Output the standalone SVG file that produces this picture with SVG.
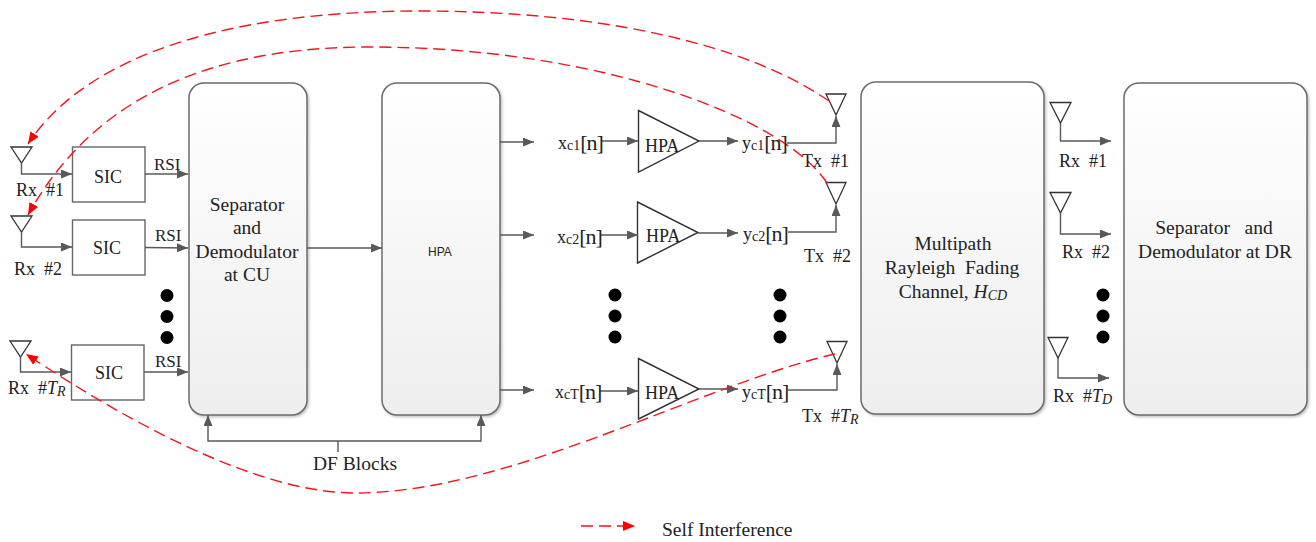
<svg xmlns="http://www.w3.org/2000/svg" width="1316" height="542" viewBox="0 0 1316 542">
<style>
text{font-family:"Liberation Serif","Times New Roman",serif;fill:#222;font-size:19.500px}
.m{text-anchor:middle}
.f{font-size:18px}
.c{font-size:17px}
.s{font-size:14px}
.b2{font-size:22px;letter-spacing:-1px}
.l{fill:none;stroke:#595959;stroke-width:1.4;marker-end:url(#a)}
.n{fill:none;stroke:#595959;stroke-width:1.4}
.b{fill:url(#g);stroke:#6b6b6b;stroke-width:1.5;filter:url(#sh)}
.r{fill:#fff;stroke:#666;stroke-width:1.4}
.t{fill:#fff;stroke:#333;stroke-width:1.4}
.ant{fill:#fff;stroke:#333;stroke-width:1.3}
.red{fill:none;stroke:#f5141e;stroke-width:1.4;stroke-dasharray:12 6;marker-end:url(#ra)}
</style>
<defs>
<marker id="a" markerUnits="userSpaceOnUse" markerWidth="12" markerHeight="10" refX="11" refY="4.500" orient="auto"><path d="M0,0L11,4.500L0,9z" fill="#595959"/></marker>
<marker id="ra" markerUnits="userSpaceOnUse" markerWidth="14" markerHeight="12" refX="12" refY="5" orient="auto"><path d="M0,0L12,5L0,10z" fill="#f00"/></marker>
<linearGradient id="g" x1="0" y1="0" x2="0" y2="1"><stop offset="0" stop-color="#fff"/><stop offset="1" stop-color="#eee"/></linearGradient>
<filter id="sh" x="-5%" y="-5%" width="110%" height="110%"><feDropShadow dx="1.5" dy="1.5" stdDeviation="1" flood-color="#999" flood-opacity=".6"/></filter>
</defs>

<g id="node-sep-cu"><rect class="b" x="189" y="83" width="118" height="332" rx="15"/>
<text class="m" x="247" y="211">Separator</text><text class="m" x="247" y="234">and</text><text class="m" x="247" y="258">Demodulator</text><text class="m" x="247" y="281">at CU</text></g>
<g id="node-hpa-main"><rect class="b" x="382" y="83" width="118" height="332" rx="15"/>
<text class="m" x="440" y="256" style="font-family:'Liberation Sans',sans-serif;font-size:12px">HPA</text></g>
<g id="node-channel"><rect class="b" x="861" y="82" width="183" height="332" rx="15"/>
<text class="m" x="953" y="250">Multipath</text><text class="m" x="952" y="274" xml:space="preserve">Rayleigh  Fading</text><text class="m" x="953" y="298" xml:space="preserve">Channel, <tspan font-style="italic">H</tspan><tspan font-style="italic" class="s" dy="2">CD</tspan></text></g>
<g id="node-sep-dr"><rect class="b" x="1124" y="83" width="183" height="332" rx="15"/>
<text class="m" x="1214" y="234" xml:space="preserve">Separator   and</text><text class="m" x="1215" y="258">Demodulator at DR</text></g>

<g id="node-sic1"><rect class="r" x="72.500" y="147" width="72.500" height="55"/><text class="m f" x="108" y="183">SIC</text></g>
<g id="node-sic2"><rect class="r" x="72.500" y="220" width="72.500" height="55"/><text class="m f" x="107" y="254">SIC</text></g>
<g id="node-sic3"><rect class="r" x="71.500" y="345" width="72.500" height="55"/><text class="m f" x="109" y="379">SIC</text></g>

<g id="node-amp1"><path class="t" d="M638.500,110.500V172L699,141z"/><text class="f" x="645" y="152">HPA</text></g>
<g id="node-amp2"><path class="t" d="M637.500,202V263L698,232.500z"/><text class="f" x="646" y="242">HPA</text></g>
<g id="node-amp3"><path class="t" d="M638.500,358.500V419L699,389z"/><text class="f" x="645" y="399">HPA</text></g>

<g id="node-antennas">
<path class="ant" d="M11,147H32L21.500,163z"/>
<path class="ant" d="M11,216H32L21.500,232z"/>
<path class="ant" d="M10,341H31L20.500,357z"/>
<path class="ant" d="M826,94H846L836,115z"/>
<path class="ant" d="M826,182.500H846L836,204z"/>
<path class="ant" d="M827,341.500H847L837,363z"/>
<path class="ant" d="M1050,102.500H1071L1060.500,123z"/>
<path class="ant" d="M1050,192.500H1071L1060.500,213z"/>
<path class="ant" d="M1048,337.500H1068L1058,358z"/>
</g>

<g id="connectors">
<path class="l" d="M21.500,163V174H72"/>
<path class="l" d="M21.500,232V247H72"/>
<path class="l" d="M20.500,357V372H71"/>
<path class="l" d="M145,174H188"/>
<path class="l" d="M145,247.500L188,248"/>
<path class="l" d="M144,372H188"/>
<path class="l" d="M307,248H382"/>
<path class="l" d="M500,142H534"/>
<path class="l" d="M500,235H534"/>
<path class="l" d="M500,390H534"/>
<path class="l" d="M601,141H638"/>
<path class="l" d="M600,235H638"/>
<path class="l" d="M600,391H638"/>
<path class="l" d="M699,141H738"/>
<path class="l" d="M698,233H738"/>
<path class="l" d="M699,389H738"/>
<path class="l" d="M787,143H836V116"/>
<path class="l" d="M788,232H836V205"/>
<path class="l" d="M788,390H837V364"/>
<path class="l" d="M1060.500,123V141H1111"/>
<path class="l" d="M1060.500,213V234H1111"/>
<path class="l" d="M1058,358V378H1109"/>
<path class="l" d="M338,441H208V415"/>
<path class="l" d="M338,441H481V415"/>
<path class="n" d="M338,441V452"/>
<path class="red" d="M829,101C740,40 590,11 420,11C240,11 90,50 28,144"/>
<path class="red" d="M827,183C785,118 600,47 370,47C230,47 100,85 28,215"/>
<path class="red" d="M835,354C700,385 510,493 355,493C250,493 110,410 26,354"/>
<path class="red" d="M581,526H635"/>
</g>

<g id="labels">
<text class="c" x="154" y="170">RSI</text><text class="c" x="155" y="241">RSI</text><text class="c" x="155" y="367">RSI</text>
<text class="f" x="16" y="196" xml:space="preserve">Rx  #1</text><text class="f" x="14" y="275" xml:space="preserve">Rx  #2</text>
<text class="f" x="8" y="394" xml:space="preserve">Rx  #<tspan font-style="italic">T</tspan><tspan font-style="italic" class="s" dy="2">R</tspan></text>
<text class="f" x="558" y="149">x<tspan class="s" dy="1">c1</tspan><tspan class="b2">[n]</tspan></text>
<text class="f" x="557" y="243">x<tspan class="s" dy="1">c2</tspan><tspan class="b2">[n]</tspan></text>
<text class="f" x="555" y="398">x<tspan class="s" dy="1">cT</tspan><tspan class="b2">[n]</tspan></text>
<text class="f" x="742" y="149">y<tspan class="s" dy="1">c1</tspan><tspan class="b2">[n]</tspan></text>
<text class="f" x="743" y="240">y<tspan class="s" dy="1">c2</tspan><tspan class="b2">[n]</tspan></text>
<text class="f" x="742" y="398">y<tspan class="s" dy="1">cT</tspan><tspan class="b2">[n]</tspan></text>
<text class="f" x="802" y="167" xml:space="preserve">Tx  #1</text><text class="f" x="804" y="262" xml:space="preserve">Tx  #2</text>
<text class="f" x="802" y="422" xml:space="preserve">Tx  #<tspan font-style="italic">T</tspan><tspan font-style="italic" class="s" dy="2">R</tspan></text>
<text class="f" x="1059" y="167" xml:space="preserve">Rx  #1</text><text class="f" x="1062" y="258" xml:space="preserve">Rx  #2</text>
<text class="f" x="1053" y="402" xml:space="preserve">Rx  #<tspan font-style="italic">T</tspan><tspan font-style="italic" class="s" dy="2">D</tspan></text>
<text class="m" x="355" y="470">DF Blocks</text>
<text x="662" y="536">Self Interference</text>
</g>

<g id="dots" fill="#000">
<circle cx="167" cy="295.500" r="6.500"/><circle cx="167" cy="316.500" r="6.500"/><circle cx="167" cy="337.500" r="6.500"/>
<circle cx="615" cy="295" r="6.500"/><circle cx="615" cy="316" r="6.500"/><circle cx="615" cy="337" r="6.500"/>
<circle cx="780" cy="295" r="6.500"/><circle cx="780" cy="316" r="6.500"/><circle cx="780" cy="337" r="6.500"/>
<circle cx="1103" cy="295" r="6.500"/><circle cx="1103" cy="316" r="6.500"/><circle cx="1103" cy="337" r="6.500"/>
</g>
</svg>
